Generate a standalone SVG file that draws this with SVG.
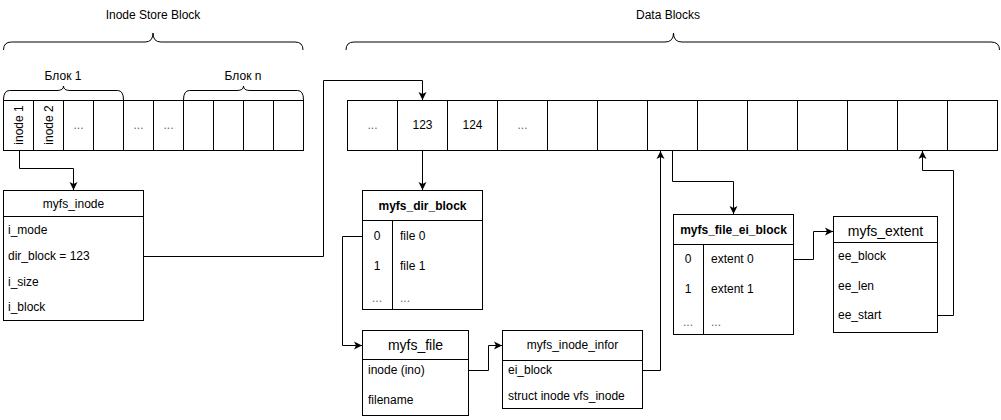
<svg xmlns="http://www.w3.org/2000/svg" width="1001" height="420" viewBox="0 0 1001 420">
<style>
.b{fill:#fff;stroke:#000;stroke-width:1}
.l{fill:none;stroke:#000;stroke-width:1}
.br{fill:none;stroke:#000;stroke-width:1}
.t{font-family:"Liberation Sans",Arial,sans-serif;font-size:12px;fill:#000}
.c{text-anchor:middle}
.h{font-weight:bold}
.big{font-size:14px}
.d{fill:#666}
.e{fill:none;stroke:#000;stroke-width:1}
</style>
<defs>
<marker id="a" markerWidth="9" markerHeight="9" refX="8" refY="4.5" orient="auto" markerUnits="userSpaceOnUse">
<path d="M0,0.5 L8,4.5 L0,8.5 L2,4.5 z" fill="#000"/>
</marker>
</defs>
<rect width="1001" height="420" fill="#fff"/>

<g id="brace-inode-store">
<path class="br" d="M3.5,50 Q3.5,42 11.5,42 L145,42 Q153,42 153,33 Q153,42 161,42 L295,42 Q303,42 303,50"/>
<text class="t c" x="153" y="19">Inode Store Block</text>
</g>
<g id="brace-block1">
<path class="br" d="M3.5,100 Q3.5,90.5 9.5,90.5 L57,90.5 Q63.5,90.5 63.5,86 Q63.5,90.5 70,90.5 L117.5,90.5 Q123.5,90.5 123.5,100"/>
<text class="t c" x="63" y="80">Блок 1</text>
</g>
<g id="brace-blockn">
<path class="br" d="M183.5,100 Q183.5,90.5 189.5,90.5 L237,90.5 Q243.5,90.5 243.5,86 Q243.5,90.5 250,90.5 L297.5,90.5 Q303.5,90.5 303.5,100"/>
<text class="t c" x="243" y="80">Блок n</text>
</g>
<g id="brace-data">
<path class="br" d="M346,50 Q346,42 354,42 L665,42 Q673.5,42 673.5,33 Q673.5,42 682,42 L991,42 Q999.5,42 999.5,50"/>
<text class="t c" x="668" y="19">Data Blocks</text>
</g>

<g id="inode-store">
<rect class="b" x="3.5" y="100.5" width="300" height="50"/>
<path class="l" d="M33.5,100.5V150.5M63.5,100.5V150.5M93.5,100.5V150.5M123.5,100.5V150.5M153.5,100.5V150.5M183.5,100.5V150.5M213.5,100.5V150.5M243.5,100.5V150.5M273.5,100.5V150.5"/>
<text class="t c" x="19" y="125" dy="4" transform="rotate(-90 19 125)">inode 1</text>
<text class="t c" x="49" y="125" dy="4" transform="rotate(-90 49 125)">inode 2</text>
<text class="t c d" x="78.5" y="129">...</text>
<text class="t c d" x="138.5" y="129">...</text>
<text class="t c d" x="168.5" y="129">...</text>
</g>

<g id="data-blocks">
<rect class="b" x="347.5" y="100.5" width="650" height="50"/>
<path class="l" d="M397.5,100.5V150.5M447.5,100.5V150.5M497.5,100.5V150.5M547.5,100.5V150.5M597.5,100.5V150.5M647.5,100.5V150.5M697.5,100.5V150.5M747.5,100.5V150.5M797.5,100.5V150.5M847.5,100.5V150.5M897.5,100.5V150.5M947.5,100.5V150.5"/>
<text class="t c d" x="372.5" y="129">...</text>
<text class="t c" x="422.5" y="129">123</text>
<text class="t c" x="472.5" y="129">124</text>
<text class="t c d" x="522.5" y="129">...</text>
</g>

<g id="myfs_inode">
<rect class="b" x="3.5" y="190.5" width="140" height="130"/>
<path class="l" d="M3.5,216.5H143.5"/>
<text class="t c" x="73.5" y="208">myfs_inode</text>
<text class="t" x="8" y="234">i_mode</text>
<text class="t" x="8" y="260">dir_block = 123</text>
<text class="t" x="8" y="286">i_size</text>
<text class="t" x="8" y="311">i_block</text>
</g>

<g id="myfs_dir_block">
<rect class="b" x="362.5" y="190.5" width="120" height="119"/>
<path class="l" d="M362.5,220.5H482.5M392.5,220.5V309.5"/>
<text class="t c h" x="422.5" y="210">myfs_dir_block</text>
<text class="t c" x="377" y="240">0</text>
<text class="t" x="400" y="240">file 0</text>
<text class="t c" x="377" y="270">1</text>
<text class="t" x="400" y="270">file 1</text>
<text class="t c d" x="377" y="302">...</text>
<text class="t d" x="400" y="302">...</text>
</g>

<g id="myfs_file">
<rect class="b" x="362.5" y="330.5" width="106" height="85"/>
<path class="l" d="M362.5,359.5H468.5"/>
<text class="t c big" x="415.5" y="350">myfs_file</text>
<text class="t" x="368" y="374">inode (ino)</text>
<text class="t" x="368" y="404">filename</text>
</g>

<g id="myfs_inode_infor">
<rect class="b" x="502.5" y="330.5" width="140" height="78"/>
<path class="l" d="M502.5,360.5H642.5"/>
<text class="t c" x="572.5" y="349">myfs_inode_infor</text>
<text class="t" x="508" y="374">ei_block</text>
<text class="t" x="508" y="400">struct inode vfs_inode</text>
</g>

<g id="myfs_file_ei_block">
<rect class="b" x="673.5" y="214.5" width="120" height="120"/>
<path class="l" d="M673.5,244.5H793.5M703.5,244.5V334.5"/>
<text class="t c h" x="733.5" y="234">myfs_file_ei_block</text>
<text class="t c" x="688" y="263">0</text>
<text class="t" x="711" y="263">extent 0</text>
<text class="t c" x="688" y="293">1</text>
<text class="t" x="711" y="293">extent 1</text>
<text class="t c d" x="688" y="326">...</text>
<text class="t d" x="711" y="326">...</text>
</g>

<g id="myfs_extent">
<rect class="b" x="833.5" y="216.5" width="104" height="116"/>
<path class="l" d="M833.5,242.5H937.5"/>
<text class="t c big" x="885.5" y="236">myfs_extent</text>
<text class="t" x="838" y="260">ee_block</text>
<text class="t" x="838" y="290">ee_len</text>
<text class="t" x="838" y="319">ee_start</text>
</g>

<g id="connectors">
<path class="e" marker-end="url(#a)" d="M19.5,151 V168.5 H73.5 V190"/>
<path class="e" marker-end="url(#a)" d="M143.5,256.5 H323.5 V80.5 H422.5 V100"/>
<path class="e" marker-end="url(#a)" d="M422.5,150.5 V190"/>
<path class="e" marker-end="url(#a)" d="M362.5,236.5 H342.5 V345.5 H362"/>
<path class="e" marker-end="url(#a)" d="M468.5,370.5 H488.5 V345.5 H502"/>
<path class="e" marker-end="url(#a)" d="M642.5,370.5 H660.5 V151"/>
<path class="e" marker-end="url(#a)" d="M672.5,150.5 V181.5 H733.5 V214"/>
<path class="e" marker-end="url(#a)" d="M793.5,259.5 H813.5 V231.5 H833"/>
<path class="e" marker-end="url(#a)" d="M937.5,315.5 H953.5 V170.5 H922.5 V151"/>
</g>
</svg>
